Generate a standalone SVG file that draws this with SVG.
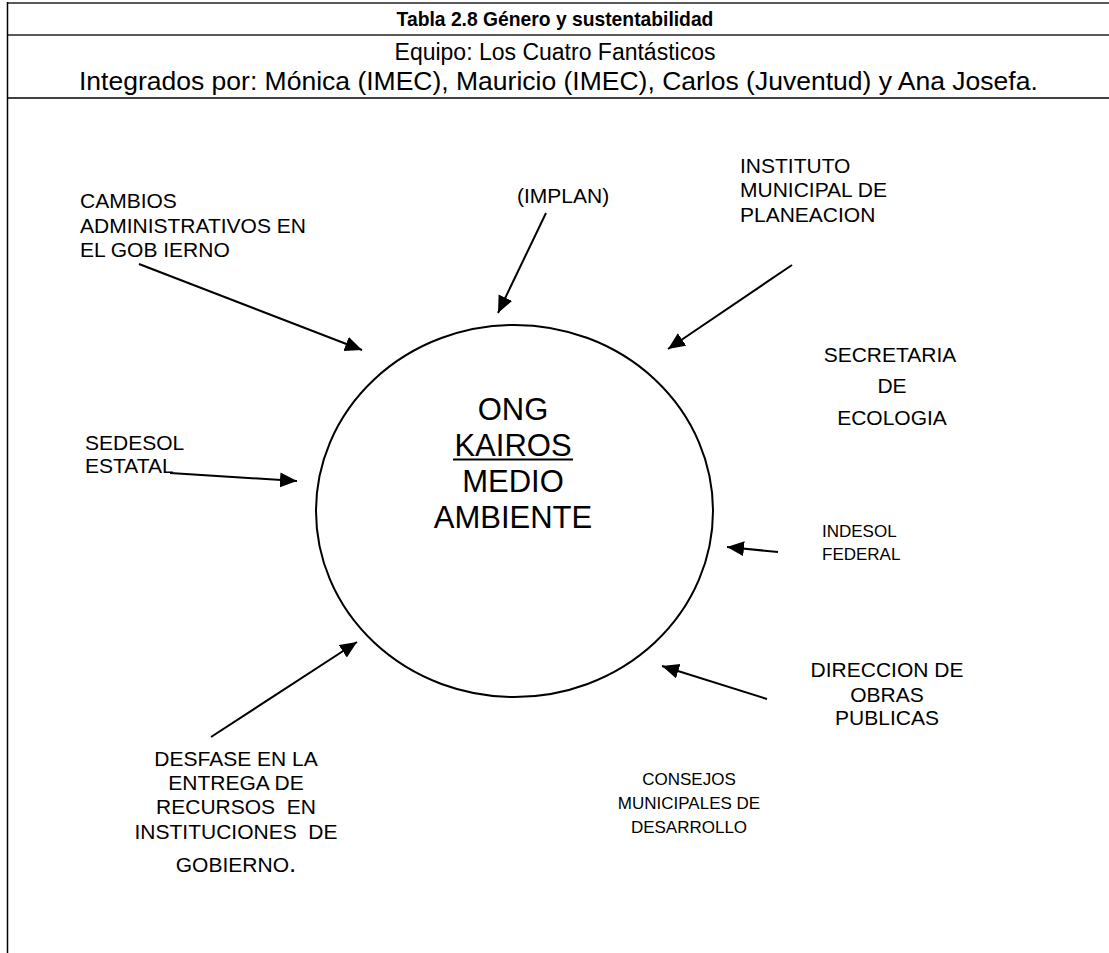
<svg xmlns="http://www.w3.org/2000/svg" width="1109" height="953" viewBox="0 0 1109 953">
<style>
.t{font-family:"Liberation Sans",Arial,sans-serif;fill:#000}
.n{font-size:21px}
.s{font-size:17px}
.c{text-anchor:middle}
.big{font-size:31px}
.conn line{stroke:#000;stroke-width:2;fill:none}
</style>
<defs>
<marker id="ah" markerWidth="18" markerHeight="16" refX="17" refY="7.5" orient="auto" markerUnits="userSpaceOnUse">
<path d="M0,0 L17,7.5 L0,15 z" fill="#000"/>
</marker>
</defs>
<rect width="1109" height="953" fill="#fff"/>
<g id="table">
<line x1="7" y1="3" x2="1109" y2="3" stroke="#5a5a5a" stroke-width="2"/>
<line x1="7" y1="35" x2="1109" y2="35" stroke="#5a5a5a" stroke-width="2"/>
<line x1="7" y1="98" x2="1109" y2="98" stroke="#000" stroke-width="1.5"/>
<line x1="7.5" y1="2" x2="7.5" y2="953" stroke="#000" stroke-width="1.5"/>
<text class="t c" x="555" y="26" font-size="19.3" font-weight="bold">Tabla 2.8 Género y sustentabilidad</text>
<text class="t c" x="555" y="60" font-size="23">Equipo: Los Cuatro Fantásticos</text>
<text class="t" x="79" y="90" font-size="26.5">Integrados por: Mónica (IMEC), Mauricio (IMEC), Carlos (Juventud) y Ana Josefa.</text>
</g>
<g id="center">
<ellipse cx="514.5" cy="511" rx="198.5" ry="186" fill="none" stroke="#000" stroke-width="2"/>
<text class="t c big" x="513" y="420">ONG</text>
<text class="t c big" x="513" y="456">KAIROS</text>
<line x1="453" y1="459.5" x2="573" y2="459.5" stroke="#000" stroke-width="2"/>
<text class="t c big" x="513" y="492">MEDIO</text>
<text class="t c big" x="513" y="528">AMBIENTE</text>
</g>
<g id="cambios">
<text class="t n" x="80" y="208">CAMBIOS</text>
<text class="t n" x="80" y="233">ADMINISTRATIVOS EN</text>
<text class="t n" x="80" y="257">EL GOB IERNO</text>
</g>
<g id="implan">
<text class="t n" x="517" y="203">(IMPLAN)</text>
</g>
<g id="instituto">
<text class="t n" x="740" y="173">INSTITUTO</text>
<text class="t n" x="740" y="197">MUNICIPAL DE</text>
<text class="t n" x="740" y="222">PLANEACION</text>
</g>
<g id="secretaria">
<text class="t n c" x="890" y="362">SECRETARIA</text>
<text class="t n c" x="892" y="393">DE</text>
<text class="t n c" x="892" y="425">ECOLOGIA</text>
</g>
<g id="sedesol">
<text class="t n" x="85" y="450">SEDESOL</text>
<text class="t n" x="85" y="473">ESTATAL</text>
</g>
<g id="indesol">
<text class="t s" x="822" y="537">INDESOL</text>
<text class="t s" x="822" y="560">FEDERAL</text>
</g>
<g id="direccion">
<text class="t n c" x="887" y="677">DIRECCION DE</text>
<text class="t n c" x="887" y="702">OBRAS</text>
<text class="t n c" x="887" y="725">PUBLICAS</text>
</g>
<g id="desfase">
<text class="t n c" x="236" y="766">DESFASE EN LA</text>
<text class="t n c" x="236" y="790">ENTREGA DE</text>
<text class="t n c" x="236" y="814" xml:space="preserve">RECURSOS  EN</text>
<text class="t n c" x="236" y="839" xml:space="preserve">INSTITUCIONES  DE</text>
<text class="t n c" x="236" y="872">GOBIERNO<tspan font-size="26">.</tspan></text>
</g>
<g id="consejos">
<text class="t s c" x="689" y="785">CONSEJOS</text>
<text class="t s c" x="689" y="809">MUNICIPALES DE</text>
<text class="t s c" x="689" y="833">DESARROLLO</text>
</g>
<g class="conn" id="connectors">
<line x1="139" y1="264" x2="362" y2="350" marker-end="url(#ah)"/>
<line x1="546" y1="213" x2="498" y2="313" marker-end="url(#ah)"/>
<line x1="792" y1="265" x2="668" y2="349" marker-end="url(#ah)"/>
<line x1="170" y1="473" x2="297" y2="481" marker-end="url(#ah)"/>
<line x1="778" y1="552" x2="727" y2="547" marker-end="url(#ah)"/>
<line x1="767" y1="699" x2="662" y2="666" marker-end="url(#ah)"/>
<line x1="211" y1="737" x2="357" y2="642" marker-end="url(#ah)"/>
</g>
</svg>
